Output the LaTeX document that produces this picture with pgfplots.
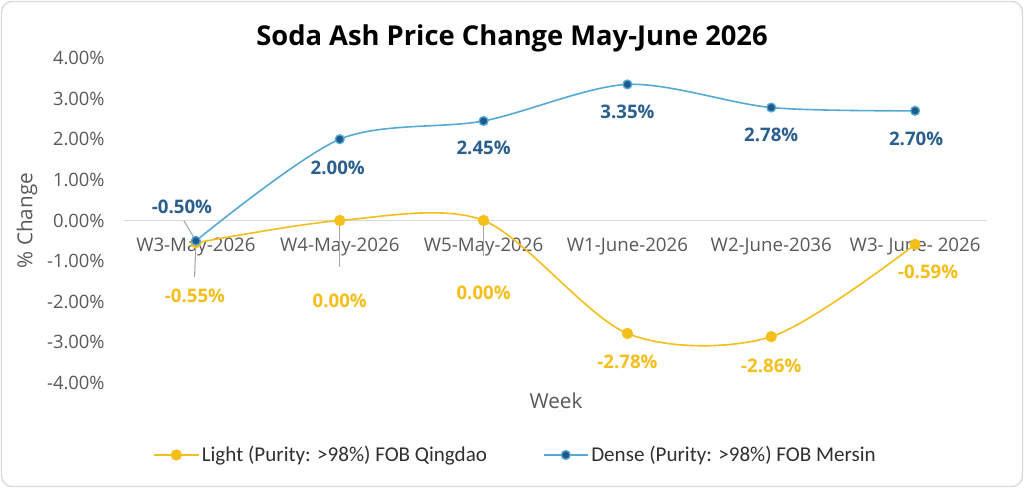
\documentclass[border=0pt]{standalone}
\usepackage{pgfplots}
\pgfplotsset{compat=1.18}
\usepackage{fontspec}
\setmainfont{Open Sans}
\newfontfamily\legendfont{Carlito}

\definecolor{lightgold}{HTML}{F4BF1B}
\definecolor{denseline}{HTML}{55A9D5}
\definecolor{densemark}{HTML}{1F5A8A}
\definecolor{denselabel}{HTML}{2B5F8E}
\definecolor{ticktext}{HTML}{595959}
\definecolor{legendtext}{HTML}{303030}
\definecolor{zeroline}{HTML}{D9D9D9}
\definecolor{leader}{HTML}{A6A6A6}

% weekly change in %, with label offsets (dx, dy) in px
\pgfplotstableread{
x y dx dy
0 -0.55 -1 -53
1 0.00 0 -80
2 0.00 0 -72
3 -2.78 0 -28.5
4 -2.86 0 -29
5 -0.59 13 -27.5
}\lightdata
\pgfplotstableread{
x y dx dy
0 -0.50 -14 34
1 2.00 -2 -29
2 2.45 0 -27
3 3.35 0 -27.5
4 2.78 0 -27
5 2.70 1 -28
}\densedata

\begin{document}
\begin{tikzpicture}[x=0.75pt,y=0.75pt]
\useasboundingbox (0,0) rectangle (1024,488);
\fill[white] (0,0) rectangle (1024,488);
\draw[gray!30, line width=1pt, rounded corners=8pt] (1.5,1.5) rectangle (1022.5,486.5);

\node[font=\bfseries\fontsize{20.5}{24}\selectfont, text=black] at (512,450) {Soda Ash Price Change May-June 2026};

\begin{axis}[
  at={(93pt,78.75pt)}, anchor=south west,
  width=647.25pt, height=243.75pt, scale only axis,
  xmin=-0.5, xmax=5.5, ymin=-4, ymax=4,
  axis x line=middle, axis y line=left,
  x axis line style={-, zeroline, line width=1.1pt},
  y axis line style={draw=none},
  hide obscured x ticks=false, hide obscured y ticks=false,
  major tick length=0pt,
  xtick={0,...,5},
  xticklabels={W3-May-2026, W4-May-2026, W5-May-2026, W1-June-2026, W2-June-2036, W3- June- 2026},
  ytick={-4,-3,...,4},
  yticklabel={\pgfmathprintnumber[fixed,fixed zerofill,precision=2,assume math mode=true]{\tick}\%},
  x tick label style={font=\fontsize{14}{16}\selectfont, text=ticktext, inner sep=3pt, yshift=-10pt},
  y tick label style={font=\fontsize{13.8}{16}\selectfont, text=ticktext, anchor=east, xshift=-11pt},
  clip=false,
  legend style={at={(0.4542,-0.2215)}, anchor=center, draw=none, fill=none,
    font=\legendfont\fontsize{15.8}{18}\selectfont, text=legendtext, legend columns=2,
    /tikz/every even column/.append style={column sep=40pt}},
  legend cell align=left,
  legend image code/.code={
    \draw[mark repeat=2,mark phase=2,#1] plot coordinates {(0pt,0pt) (16.5pt,0pt) (33pt,0pt)};
  },
]

% leader lines from labels to points
\draw[leader, line width=0.8pt] (axis cs:0,-0.50) -- ++(-9pt,15pt);
\draw[leader, line width=0.8pt] (axis cs:0,-0.55) -- ++(-1pt,-25.5pt);
\draw[leader, line width=0.8pt] (axis cs:1,0) -- ++(0pt,-35pt);
\draw[leader, line width=0.8pt] (axis cs:2,0) -- ++(0pt,-26.6pt);

\addplot[lightgold, line width=1.2pt, smooth,
  mark=*, mark size=3.6pt, mark options={fill=lightgold, draw=lightgold},
  visualization depends on={\thisrow{dx} \as \ldx},
  visualization depends on={\thisrow{dy} \as \ldy},
  nodes near coords={\pgfmathprintnumber[fixed,fixed zerofill,precision=2,assume math mode=true]{\pgfplotspointmeta}\%},
  nodes near coords style={font=\bfseries\fontsize{14}{16}\selectfont, text=lightgold, anchor=center,
    xshift={\ldx*0.75pt}, yshift={\ldy*0.75pt}},
] table[x=x, y=y] {\lightdata};
\addlegendentry{Light (Purity: >98\%) FOB Qingdao}

\addplot[denseline, line width=1.2pt, smooth,
  mark=*, mark size=3.3pt, mark options={fill=densemark, draw=denseline, line width=1pt},
  visualization depends on={\thisrow{dx} \as \ldx},
  visualization depends on={\thisrow{dy} \as \ldy},
  nodes near coords={\pgfmathprintnumber[fixed,fixed zerofill,precision=2,assume math mode=true]{\pgfplotspointmeta}\%},
  nodes near coords style={font=\bfseries\fontsize{14}{16}\selectfont, text=denselabel, anchor=center,
    xshift={\ldx*0.75pt}, yshift={\ldy*0.75pt}},
] table[x=x, y=y] {\densedata};
\addlegendentry{Dense (Purity: >98\%) FOB Mersin}

\node[font=\fontsize{15.5}{18}\selectfont, text=ticktext] at (rel axis cs:0.5006,-0.0554) {Week};
\node[font=\fontsize{15.5}{18}\selectfont, text=ticktext, rotate=90] at (rel axis cs:-0.1124,0.5) {\% Change};
\end{axis}
\end{tikzpicture}
\end{document}
